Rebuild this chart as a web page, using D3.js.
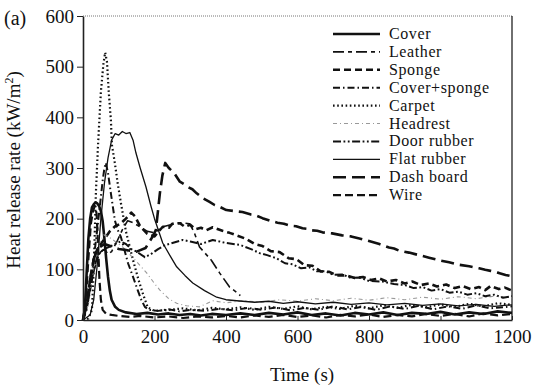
<!DOCTYPE html>
<html>
<head>
<meta charset="utf-8">
<script src="https://cdn.jsdelivr.net/npm/d3@7"></script>
<style>
  body { margin: 0; background: #fff; }
  svg text { font-family: "Liberation Serif", "Times New Roman", Times, "Nimbus Roman", serif; fill: #111; }
</style>
</head>
<body>
<svg id="chart" width="534" height="388"></svg>
<script>
// tick values
const xTicks = [0, 200, 400, 600, 800, 1000, 1200];
const yTicks = [0, 100, 200, 300, 400, 500, 600];

// series, [time (s), HRR (kW/m2)]
const cover = [[0,0],[5,20],[10,90],[15,160],[20,200],[25,222],[30,228],[35,232],[40,230],[45,225],[50,215],[55,195],[60,160],[65,120],[70,85],[75,58],[80,40],[90,26],[100,20],[120,15],[150,12],[180,14],[210,11],[240,13],[270,10],[300,12],[330,9],[360,12],[400,10],[440,13],[480,10],[520,14],[560,11],[600,15],[640,10],[680,13],[720,9],[760,14],[800,11],[840,15],[880,10],[920,14],[960,12],[1000,16],[1040,11],[1080,15],[1120,12],[1160,17],[1200,14]];
const leather = [[0,0],[10,25],[20,60],[30,95],[40,120],[50,135],[60,140],[70,130],[80,135],[95,155],[110,178],[125,196],[140,192],[160,184],[180,175],[200,172],[223,184],[245,188],[271,192],[298,190],[310,175],[326,144],[359,118],[382,93],[410,65],[433,53],[440,48]];
const sponge = [[0,0],[10,30],[20,80],[30,120],[40,140],[50,150],[60,160],[75,175],[90,185],[105,190],[120,200],[135,212],[145,205],[160,185],[180,170],[200,165],[223,184],[240,182],[250,190],[271,191],[285,184],[300,188],[315,179],[330,182],[345,177],[363,183],[390,176],[410,172],[430,167],[457,160],[480,150],[502,146],[525,136],[550,134],[575,122],[597,120],[620,108],[642,107],[665,96],[689,95],[710,88],[737,88],[760,83],[783,85],[805,79],[829,82],[850,76],[875,79],[900,72],[921,76],[945,69],[968,72],[990,66],[1016,70],[1040,63],[1062,67],[1085,61],[1108,65],[1125,59],[1140,67],[1163,61],[1180,64],[1200,58]];
const coverSponge = [[0,0],[10,20],[20,60],[30,120],[40,180],[48,230],[55,275],[60,300],[64,310],[70,290],[78,250],[89,197],[97,178],[106,164],[116,138],[126,112],[140,85],[153,59],[163,40],[173,26],[185,20],[210,18],[240,21],[270,17],[300,20],[340,18],[380,22],[420,19],[460,24],[500,20],[540,25],[580,19],[620,24],[660,20],[700,27],[740,21],[780,26],[820,20],[860,27],[900,22],[940,28],[980,21],[1020,27],[1060,22],[1100,29],[1140,23],[1200,27]];
const carpet = [[0,0],[15,3],[25,20],[30,100],[36,250],[42,345],[50,450],[57,505],[62,528],[67,510],[72,450],[78,395],[81,345],[89,310],[97,270],[106,231],[120,175],[140,118],[155,80],[167,53],[181,25],[200,18],[240,20],[280,23],[320,19],[360,24],[400,21],[440,25],[480,20],[520,26],[560,22],[600,27],[640,21],[680,26],[720,22],[760,28],[800,23],[840,29],[880,24],[920,30],[960,25],[1000,31],[1040,26],[1080,32],[1120,27],[1160,33],[1200,30]];
const headrest = [[0,0],[15,30],[30,100],[45,150],[58,168],[70,165],[90,155],[110,145],[130,130],[150,115],[178,93],[200,72],[215,59],[240,42],[262,33],[290,28],[326,26],[363,38],[400,34],[450,38],[500,35],[550,40],[600,37],[650,42],[700,38],[750,43],[800,39],[850,44],[900,40],[950,45],[1000,41],[1050,46],[1100,42],[1150,47],[1200,44]];
const doorRubber = [[0,0],[10,25],[20,60],[30,100],[40,125],[50,135],[60,140],[75,145],[90,150],[105,155],[120,150],[135,140],[150,135],[173,124],[190,130],[210,140],[230,148],[250,152],[279,158],[300,155],[330,150],[363,158],[400,152],[440,148],[470,140],[494,132],[515,128],[541,122],[565,112],[586,110],[610,102],[633,104],[655,96],[680,96],[700,89],[725,90],[750,83],[773,84],[800,77],[837,76],[870,71],[900,69],[925,63],[950,65],[975,58],[1000,61],[1025,54],[1050,56],[1075,50],[1100,53],[1125,47],[1150,50],[1175,44],[1200,47]];
const flatRubber = [[0,0],[20,10],[30,40],[40,110],[50,200],[60,270],[70,320],[80,355],[90,368],[100,365],[110,372],[120,368],[131,370],[140,355],[148,330],[160,300],[176,263],[190,225],[200,200],[223,152],[245,125],[262,105],[285,88],[307,73],[340,58],[374,45],[400,40],[430,38],[480,35],[520,37],[560,33],[600,36],[650,32],[700,35],[750,31],[800,34],[850,30],[900,33],[950,29],[1000,32],[1050,28],[1100,31],[1150,27],[1200,30]];
const dashBoard = [[0,0],[10,30],[20,80],[30,120],[40,140],[60,150],[80,145],[100,140],[120,138],[150,135],[175,142],[195,165],[204,178],[215,250],[222,285],[230,310],[240,300],[255,290],[271,273],[283,268],[295,262],[306,258],[318,250],[336,240],[354,233],[368,227],[380,224],[401,217],[423,215],[446,213],[470,208],[485,206],[502,201],[523,196],[544,192],[562,190],[580,186],[596,185],[614,181],[627,180],[640,177],[655,176],[670,173],[697,171],[725,167],[750,165],[773,161],[800,156],[829,150],[845,146],[856,143],[870,141],[884,137],[912,133],[940,128],[968,123],[996,118],[1024,114],[1052,109],[1080,106],[1108,102],[1125,99],[1140,97],[1152,95],[1163,93],[1182,89],[1200,86]];
const wire = [[0,0],[8,40],[15,120],[22,190],[28,215],[33,225],[38,210],[42,150],[46,80],[50,40],[55,20],[65,12],[80,10],[100,8],[130,6],[160,8],[200,5],[240,7],[280,4],[320,7],[360,5],[400,8],[440,5],[480,9],[520,6],[560,10],[600,6],[640,9],[680,5],[720,10],[760,7],[800,11],[840,6],[880,10],[920,7],[960,12],[1000,8],[1040,12],[1080,7],[1120,13],[1160,9],[1200,12]];

const names = ['Cover', 'Leather', 'Sponge', 'Cover+sponge', 'Carpet', 'Headrest', 'Door rubber', 'Flat rubber', 'Dash board', 'Wire'];
const seriesData = [cover, leather, sponge, coverSponge, carpet, headrest, doorRubber, flatRubber, dashBoard, wire];

// line styles, same order as names
const styles = [
  { stroke: '#111', width: 2.6, dash: null },
  { stroke: '#111', width: 1.6, dash: '11,4,4,4' },
  { stroke: '#111', width: 2.6, dash: '7,4' },
  { stroke: '#111', width: 2, dash: '7,3,1.5,3' },
  { stroke: '#111', width: 2.2, dash: '1.6,2.6' },
  { stroke: '#999', width: 1.1, dash: '4,3,1,3' },
  { stroke: '#111', width: 2, dash: '8,2.5,1.8,2.5,1.8,2.5' },
  { stroke: '#111', width: 1.3, dash: null },
  { stroke: '#111', width: 2.6, dash: '13,6' },
  { stroke: '#111', width: 2.2, dash: '8,4' }
];

const FONT = '"Liberation Serif", "Times New Roman", Times, serif';
const svg = d3.select('#chart');
const plot = { left: 83, right: 512, top: 16, bottom: 320 };

const x = d3.scaleLinear().domain([0, 1200]).range([plot.left, plot.right]);
const y = d3.scaleLinear().domain([0, 600]).range([plot.bottom, plot.top]);

const line = d3.line()
  .x(d => x(d[0]))
  .y(d => y(d[1]));

// frame: top dotted, right solid
svg.append('line')
  .attr('x1', plot.left).attr('x2', plot.right).attr('y1', plot.top).attr('y2', plot.top)
  .attr('stroke', '#777').attr('stroke-width', 1).attr('stroke-dasharray', '1,1');
svg.append('line')
  .attr('x1', plot.right).attr('x2', plot.right).attr('y1', plot.top).attr('y2', plot.bottom)
  .attr('stroke', '#222').attr('stroke-width', 1.3);

// data lines
const lines = svg.append('g').attr('class', 'lines');
seriesData.forEach((s, i) => {
  lines.append('path')
    .datum(s)
    .attr('fill', 'none')
    .attr('stroke', styles[i].stroke)
    .attr('stroke-width', styles[i].width)
    .attr('stroke-dasharray', styles[i].dash)
    .attr('stroke-linejoin', 'round')
    .attr('d', line);
});

// x axis
const xAxis = svg.append('g')
  .attr('transform', `translate(0,${plot.bottom})`)
  .attr('font-family', FONT)
  .call(d3.axisBottom(x).tickValues(xTicks).tickFormat(d3.format('d')).tickSizeInner(-4).tickSizeOuter(0).tickPadding(10));
xAxis.select('.domain').attr('stroke', '#222').attr('stroke-width', 1.4);
xAxis.selectAll('.tick line').attr('stroke', '#222');
xAxis.selectAll('text').attr('font-size', 19).attr('font-family', FONT).attr('fill', '#111');

// y axis
const yAxis = svg.append('g')
  .attr('transform', `translate(${plot.left},0)`)
  .attr('font-family', FONT)
  .call(d3.axisLeft(y).tickValues(yTicks).tickFormat(d3.format('d')).tickSizeInner(6).tickSizeOuter(0).tickPadding(3));
yAxis.select('.domain').attr('stroke', '#222').attr('stroke-width', 1.6);
yAxis.selectAll('.tick line').attr('stroke', '#222');
yAxis.selectAll('text').attr('font-size', 19).attr('font-family', FONT).attr('fill', '#111');

// titles
svg.append('text')
  .attr('x', 4).attr('y', 25)
  .attr('font-size', 20)
  .attr('font-family', FONT)
  .text('(a)');

svg.append('text')
  .attr('transform', 'translate(20,170) rotate(-90)')
  .attr('text-anchor', 'middle')
  .attr('font-size', 19)
  .attr('font-family', FONT)
  .html('Heat release rate (kW/m<tspan baseline-shift="super" font-size="12">2</tspan>)');

svg.append('text')
  .attr('x', 302).attr('y', 381)
  .attr('text-anchor', 'middle')
  .attr('font-size', 19)
  .attr('font-family', FONT)
  .text('Time (s)');

// legend
const legend = svg.append('g').attr('class', 'legend');
names.forEach((n, i) => {
  const ly = 34 + i * 17.9;
  legend.append('line')
    .attr('x1', 333).attr('x2', 380).attr('y1', ly).attr('y2', ly)
    .attr('stroke', styles[i].stroke)
    .attr('stroke-width', styles[i].width)
    .attr('stroke-dasharray', styles[i].dash);
  legend.append('text')
    .attr('x', 389).attr('y', ly + 5)
    .attr('font-size', 16)
    .attr('letter-spacing', 0.6)
    .attr('font-family', FONT)
    .text(n);
});
</script>
</body>
</html>
